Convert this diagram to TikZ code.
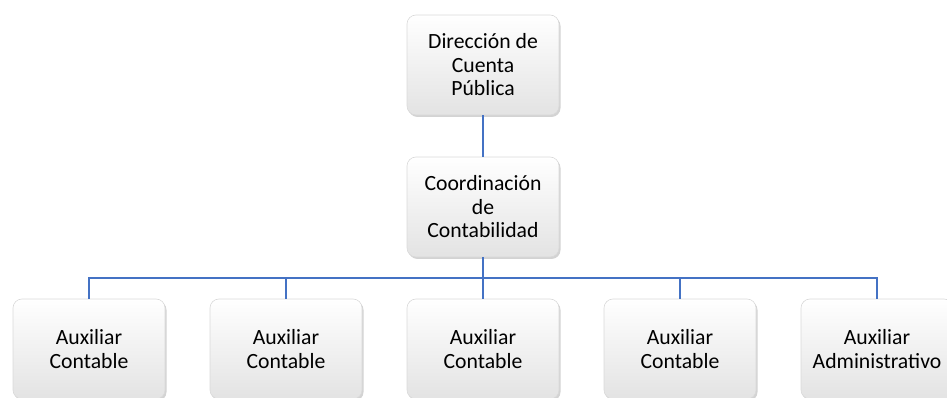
\documentclass[tikz,border=0pt]{standalone}
\usepackage{fontspec}
\setmainfont{Carlito}
\usetikzlibrary{shadows}
\definecolor{linkblue}{RGB}{68,114,196}
\newcommand{\boxw}{152pt}
\newcommand{\boxh}{100pt}

\begin{document}
\begin{tikzpicture}[x=1pt,y=1pt]
        \useasboundingbox (0,0) rectangle (947,398);
        \begin{scope}
            %\draw[help lines] (0,0) grid (947,398);
            \tikzset{unitbox/.style = {rectangle, rounded corners=9pt, draw=gray!30, line width=0.6pt,
                    top color=white, bottom color=gray!22, drop shadow={opacity=0.35, shadow xshift=1.5pt, shadow yshift=-2pt},
                    minimum width=\boxw, minimum height=\boxh, inner sep=2pt, align=center,
                    font=\fontsize{21.7}{23.5}\selectfont}}
            \tikzset{link/.style = {draw=linkblue, line width=1.3pt}}

            \node[unitbox] (dir) at (483,333) {Dirección de\\Cuenta\\Pública};
            \node[unitbox] (coord) at (483,191) {Coordinación\\de\\Contabilidad};

            \node[unitbox] (aux1) at (89,49) {Auxiliar\\Contable};
            \node[unitbox] (aux2) at (286,49) {Auxiliar\\Contable};
            \node[unitbox] (aux3) at (483,49) {Auxiliar\\Contable};
            \node[unitbox] (aux4) at (680,49) {Auxiliar\\Contable};
            \node[unitbox] (aux5) at (877,49) {Auxiliar\\Administrativo};

            \coordinate (bus) at (483,120);

            \draw[link] (dir) -- (coord);
            \draw[link] (coord) -- (bus);

            \draw[link] (bus) -| (aux1);
            \draw[link] (bus) -| (aux2);
            \draw[link] (bus) -- (aux3);
            \draw[link] (bus) -| (aux4);
            \draw[link] (bus) -| (aux5);
        \end{scope}
    \end{tikzpicture}
\end{document}
